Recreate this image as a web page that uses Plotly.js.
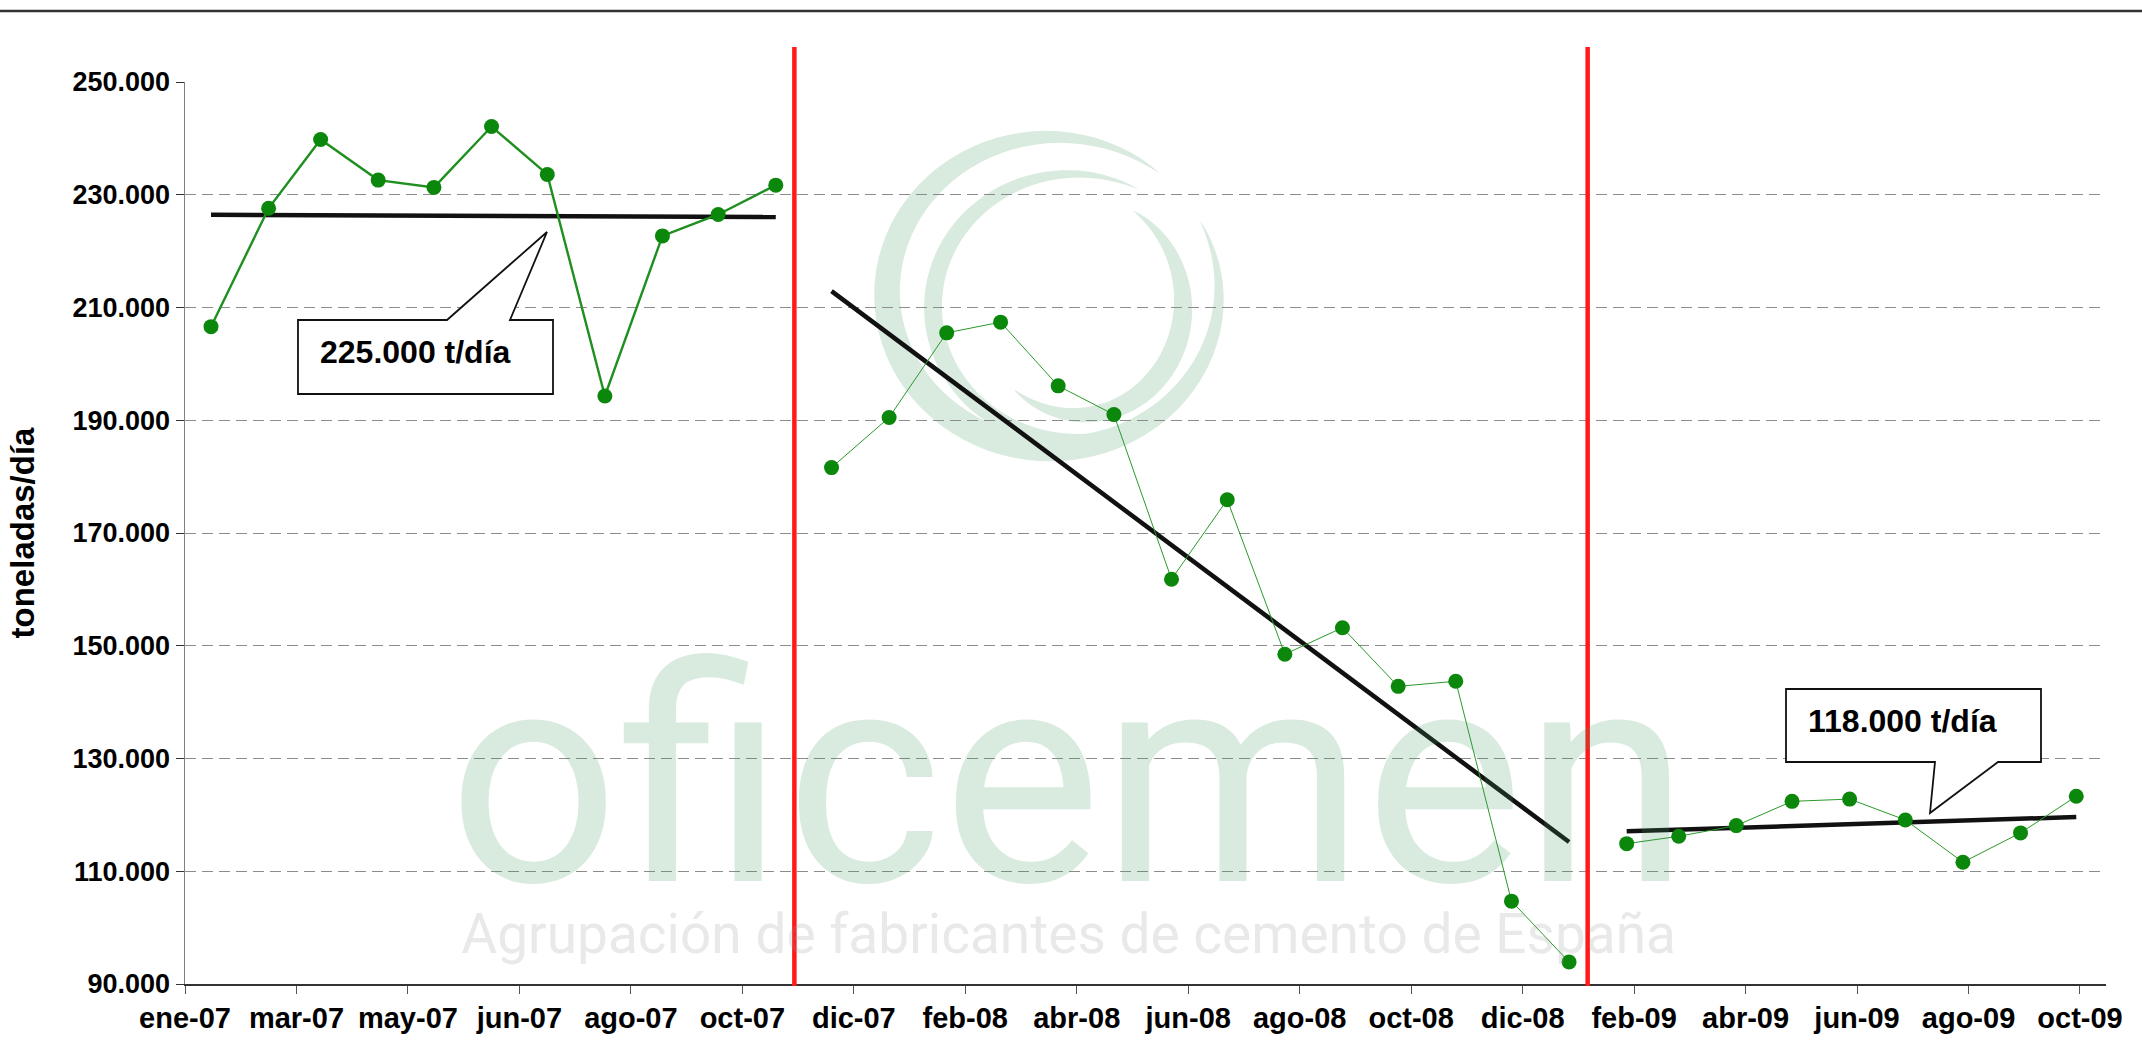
<!DOCTYPE html>
<html><head><meta charset="utf-8">
<script src="https://cdn.plot.ly/plotly-3.0.1.min.js"></script>
<style>html,body{margin:0;padding:0;background:#fff;} #chart{width:2142px;height:1042px;}</style>
</head><body><div id="chart"></div>
<script>
// ---- datos (toneladas/día, consumo de cemento) ----
const fechas1 = ['2007-01-15','2007-02-15','2007-03-15','2007-04-15','2007-05-15','2007-06-15','2007-07-15','2007-08-15','2007-09-15','2007-10-15','2007-11-15'];
const valores1 = [206600, 227600, 239800, 232600, 231300, 242100, 233600, 194300, 222700, 226500, 231700];
const fechas2 = ['2007-12-15','2008-01-15','2008-02-15','2008-03-15','2008-04-15','2008-05-15','2008-06-15','2008-07-15','2008-08-15','2008-09-15','2008-10-15','2008-11-15','2008-12-15','2009-01-15'];
const valores2 = [181600, 190500, 205500, 207400, 196100, 191000, 161800, 175900, 148500, 153200, 142800, 143700, 104700, 93900];
const fechas3 = ['2009-02-15','2009-03-15','2009-04-15','2009-05-15','2009-06-15','2009-07-15','2009-08-15','2009-09-15','2009-10-15'];
const valores3 = [114900, 116200, 118100, 122400, 122800, 119100, 111600, 116800, 123300];
const etiquetasEje = ['ene-07','mar-07','may-07','jun-07','ago-07','oct-07','dic-07','feb-08','abr-08','jun-08','ago-08','oct-08','dic-08','feb-09','abr-09','jun-09','ago-09','oct-09'];
const inicioEje = '2007-01-01', finEje = '2009-10-31', pasoDias = 60;
const cortes = ['2007-11-25','2009-01-25'];
const rotulos = ['225.000 t/día','118.000 t/día'];
const marcaAgua = ['oficemen','Agrupación de fabricantes de cemento de España'];

// ---- geometry helpers (pixel -> paper) ----
const L = 185, R = 2106, T = 82, B = 984;
const px = x => (x - L) / (R - L);
const py = y => (B - y) / (B - T);
function pathPx(pts){ return 'M' + pts.map(p => px(p[0]).toFixed(5) + ',' + py(p[1]).toFixed(5)).join(' L') + ' Z'; }
function crescent(cx, cy, rx, ry, a0, a1, wmax){
  const N = 80, outer = [], inner = [];
  for(let i=0;i<=N;i++){
    const u = i/N, a = (a0 + (a1-a0)*u) * Math.PI/180;
    const w = wmax * Math.pow(Math.sin(Math.PI*u), 0.8);
    outer.push([cx + (rx + w/2)*Math.cos(a), cy - (ry + w/2)*Math.sin(a)]);
    inner.push([cx + (rx - w/2)*Math.cos(a), cy - (ry - w/2)*Math.sin(a)]);
  }
  return pathPx(outer.concat(inner.reverse()));
}

// ---- trend lines (least squares) ----
function tendencia(f, v){
  const n = v.length, mx = (n-1)/2, my = v.reduce((a,b)=>a+b,0)/n;
  let sxy = 0, sxx = 0;
  v.forEach((y,i)=>{ sxy += (i-mx)*(y-my); sxx += (i-mx)*(i-mx); });
  const b = sxy/sxx, a = my - b*mx;
  return {x:[f[0], f[n-1]], y:[a, a + b*(n-1)]};
}

const tickvals = etiquetasEje.map((_,k)=> new Date(Date.parse(inicioEje+'T00:00:00Z') + k*pasoDias*864e5).toISOString().slice(0,10));

const green = '#0b870b';
const traces = [];
[[fechas1,valores1],[fechas2,valores2],[fechas3,valores3]].forEach(([f,v])=>{
  const t = tendencia(f,v);
  traces.push({type:'scatter', mode:'lines', x:t.x, y:t.y, line:{color:'#111', width:4.5}, hoverinfo:'skip', showlegend:false});
});
traces.push({type:'scatter', mode:'lines+markers', x:fechas1, y:valores1, line:{color:'#1f8f1f', width:2.4}, marker:{color:green, size:15}, showlegend:false});
traces.push({type:'scatter', mode:'lines+markers', x:fechas2, y:valores2, line:{color:'#2a9a2a', width:1}, marker:{color:green, size:15}, showlegend:false});
traces.push({type:'scatter', mode:'lines+markers', x:fechas3, y:valores3, line:{color:'#2a9a2a', width:1}, marker:{color:green, size:15}, showlegend:false});

const logoFill = '#d9eadf';
const shapes = [
  {type:'path', xref:'paper', yref:'paper', layer:'below', path:crescent(1053,293,166,156,50,388,27), fillcolor:logoFill, line:{width:0}},
  {type:'path', xref:'paper', yref:'paper', layer:'below', path:crescent(1073,307,140,133,62,325,18), fillcolor:logoFill, line:{width:0}},
  {type:'path', xref:'paper', yref:'paper', layer:'below', path:crescent(1080,305,103,110,59,-130,21), fillcolor:logoFill, line:{width:0}},
  // top rule
  {type:'line', xref:'paper', yref:'paper', x0:px(0), x1:px(2142), y0:py(11), y1:py(11), line:{color:'#333', width:2.5}},
  // period separators
  ...cortes.map(d=>({type:'line', xref:'x', yref:'paper', x0:d, x1:d, y0:py(986), y1:py(47), line:{color:'#ff1a1a', width:4.5}})),
  // callouts
  {type:'path', xref:'paper', yref:'paper', layer:'above', fillcolor:'#fff', line:{color:'#111', width:1.8},
   path:pathPx([[298,320],[447,320],[547,232],[510,320],[553,320],[553,394],[298,394]])},
  {type:'path', xref:'paper', yref:'paper', layer:'above', fillcolor:'#fff', line:{color:'#111', width:1.8},
   path:pathPx([[1786,689],[2041,689],[2041,762],[1998,762],[1930,813],[1935,762],[1786,762]])}
];

const annotations = [
  {xref:'paper', yref:'paper', x:px(1068), y:py(968), xanchor:'center', yanchor:'bottom', showarrow:false, align:'center',
   opacity:0.2,
   text:'<span style="font-size:300px;color:rgb(70,155,100)">' + marcaAgua[0] + '</span><br>' + marcaAgua[1],
   font:{family:'Roboto, Open Sans, sans-serif', size:55, weight:400, color:'rgb(150,150,150)'}},
  {xref:'paper', yref:'paper', x:px(415), y:py(352), xanchor:'center', yanchor:'middle', showarrow:false,
   text:rotulos[0], font:{family:'Liberation Sans, Arial, sans-serif', size:32, weight:'bold', color:'#000'}},
  {xref:'paper', yref:'paper', x:px(1902), y:py(721), xanchor:'center', yanchor:'middle', showarrow:false,
   text:rotulos[1], font:{family:'Liberation Sans, Arial, sans-serif', size:32, weight:'bold', color:'#000'}}
];

const layout = {
  width:2142, height:1042,
  margin:{l:L, r:2142-R, t:T, b:1042-B, autoexpand:false},
  paper_bgcolor:'#fff', plot_bgcolor:'rgba(0,0,0,0)',
  separators:',.',
  showlegend:false,
  font:{family:'Liberation Sans, Arial, sans-serif', color:'#000'},
  xaxis:{type:'date', range:[inicioEje, finEje], tickmode:'array', tickvals:tickvals, ticktext:etiquetasEje,
    ticks:'outside', ticklen:8, tickcolor:'#555', tickwidth:1, showline:true, linecolor:'#333', linewidth:1.5,
    showgrid:false, zeroline:false, fixedrange:true,
    tickfont:{size:29, weight:'bold', color:'#000'}},
  yaxis:{range:[90000,250000], tick0:90000, dtick:20000, tickformat:',d',
    ticks:'outside', ticklen:8, tickcolor:'#333', tickwidth:1, showline:true, linecolor:'#808080', linewidth:1.5,
    showgrid:true, gridcolor:'#8c8c8c', gridwidth:1, griddash:'11px,6px', zeroline:false, fixedrange:true,
    tickfont:{size:27, weight:'bold', color:'#000'},
    title:{text:'toneladas/día', standoff:28, font:{size:33, weight:'bold', color:'#000'}}},
  shapes:shapes,
  annotations:annotations
};

Plotly.newPlot('chart', traces, layout, {staticPlot:true, displayModeBar:false});
</script>
</body></html>
